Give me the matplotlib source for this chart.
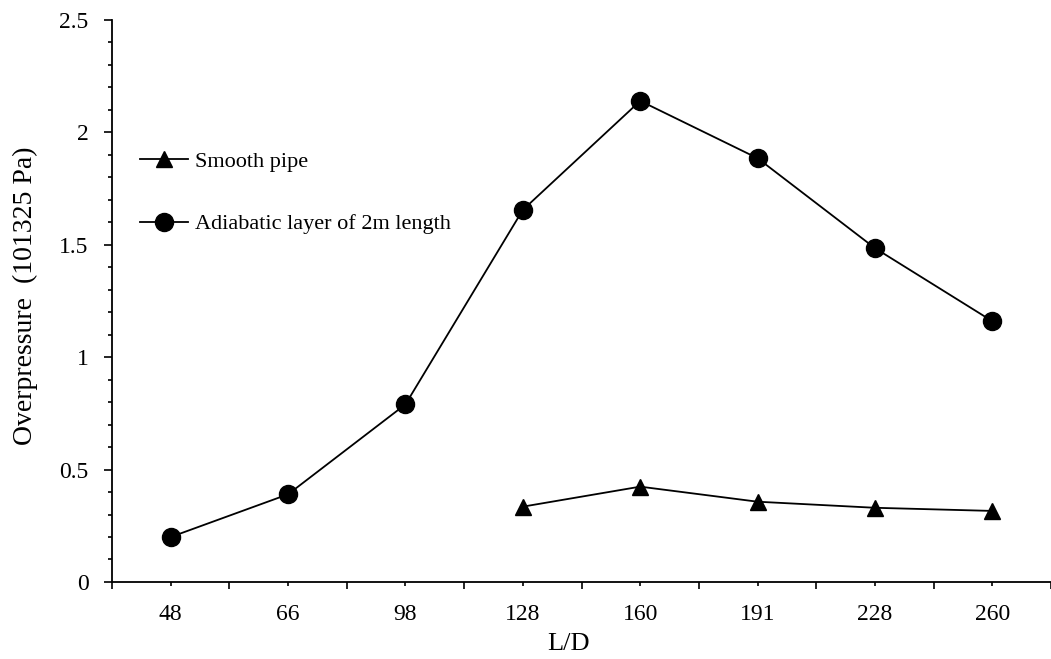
import matplotlib.pyplot as plt
import numpy as np
from matplotlib.ticker import MultipleLocator, FixedLocator

plt.rcParams['font.family'] = ['Liberation Serif', 'DejaVu Serif']

# Data
ld_labels = ['48', '66', '98', '128', '160', '191', '228', '260']
adiabatic = [0.20, 0.39, 0.79, 1.655, 2.14, 1.885, 1.485, 1.16]
smooth_idx = [3, 4, 5, 6, 7]
smooth = [0.335, 0.424, 0.357, 0.33, 0.316]

x = np.arange(len(ld_labels))

fig = plt.figure(figsize=(10.51, 6.59), dpi=100)
ax = fig.add_axes([0.1066, 0.1169, 0.8934, 0.8528])

ax.plot(smooth_idx, smooth, color='black', linewidth=1.3, marker='^',
        markersize=12, label='Smooth pipe')
ax.plot(x, adiabatic, color='black', linewidth=1.3, marker='o',
        markersize=13, label='Adiabatic layer of 2m length')

ax.set_xlim(-0.5, len(ld_labels) - 0.5)
ax.set_ylim(0, 2.5)

# x ticks: labels at categories, longer ticks at category boundaries
ax.set_xticks(x)
ax.set_xticklabels(ld_labels)
ax.xaxis.set_minor_locator(FixedLocator(np.arange(-0.5, len(ld_labels), 1.0)))
ax.tick_params(axis='x', which='major', direction='out', length=3, width=1.2,
               labelsize=17, pad=13)
ax.tick_params(axis='x', which='minor', direction='out', length=5, width=1.2)

ax.set_yticks(np.arange(0, 2.51, 0.5))
ax.set_yticklabels(['0', '0.5', '1', '1.5', '2', '2.5'])
ax.yaxis.set_minor_locator(MultipleLocator(0.1))
ax.tick_params(axis='y', which='major', direction='out', length=5.5, width=1.2,
               labelsize=17, pad=11.5)
ax.tick_params(axis='y', which='minor', direction='out', length=3, width=1.2)

for side in ['top', 'right']:
    ax.spines[side].set_visible(False)
for side in ['left', 'bottom']:
    ax.spines[side].set_linewidth(1.3)

ax.set_xlabel('L/D', fontsize=19)
ax.xaxis.set_label_coords(0.4856, -0.0907)
ax.set_ylabel('Overpressure  (101325 Pa)', fontsize=20)
ax.yaxis.set_label_coords(-0.079, 0.51)

ax.legend(loc='upper left', bbox_to_anchor=(0.0298, 0.766), frameon=False,
          fontsize=16, labelspacing=1.88, handlelength=2.16, handletextpad=0.3,
          borderaxespad=0.0, borderpad=0.0)

fig.savefig('out.png', dpi=100)
